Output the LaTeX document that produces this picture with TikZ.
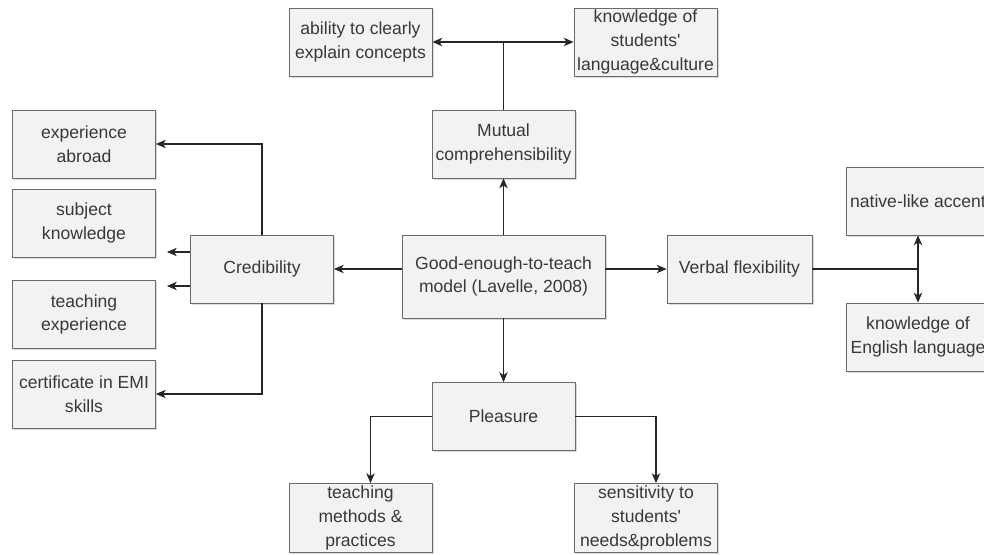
\documentclass[tikz,border=0pt]{standalone}
\usepackage{fontspec}
\setmainfont{Liberation Sans}
\usepackage{tikz}
\usetikzlibrary{arrows.meta,shadows}
\definecolor{boxfill}{rgb}{0.95,0.95,0.95}
\definecolor{boxline}{rgb}{0.42,0.42,0.42}
\definecolor{boxtext}{rgb}{0.22,0.22,0.22}

\begin{document}
\begin{tikzpicture}[>={Stealth[length=7pt,width=6pt,inset=2pt]},
		  box/.style={draw=boxline, fill=boxfill, line width=0.6pt, text=boxtext,
		    minimum width=3.575cm, minimum height=1.7cm, inner sep=1pt, align=center,
		    font=\fontsize{12.5}{17}\selectfont,
		    drop shadow={shadow xshift=1.2pt, shadow yshift=-1.2pt, opacity=0.3, fill=gray}},
		  link/.style={line width=0.75pt, draw=black!85}]
		  \useasboundingbox (0,0) rectangle (24.6,13.85);
		  % centre and the four branches
		  \node[box, minimum width=5.075cm, minimum height=2.075cm] (model) at (12.5875,6.9375) {Good-enough-to-teach\\model (Lavelle, 2008)};
		  \node[box] (mutual) at (12.5875,10.25) {Mutual\\comprehensibility};
		  \node[box] (cred) at (6.55,7.125) {Credibility};
		  \node[box, minimum width=3.625cm] (verbal) at (18.4875,7.125) {Verbal flexibility};
		  \node[box] (pleasure) at (12.5875,3.4375) {Pleasure};
		  % top
		  \node[box] (explain) at (9.0125,12.8) {ability to clearly\\explain concepts};
		  \node[box] (studlang) at (16.1375,12.8) {knowledge of\\students\textquotesingle\\language\&culture};
		  % left
		  \node[box] (abroad) at (2.1,10.25) {experience\\abroad};
		  \node[box] (subject) at (2.1,8.275) {subject\\knowledge};
		  \node[box] (teachexp) at (2.1,5.9875) {teaching\\experience};
		  \node[box] (emi) at (2.1,4.0) {certificate in EMI\\skills};
		  % right
		  \node[box] (accent) at (22.95,8.825) {native-like accent};
		  \node[box] (english) at (22.95,5.425) {knowledge of\\English language};
		  % bottom
		  \node[box, minimum height=1.725cm] (methods) at (9.0125,0.9) {teaching\\methods \&\\practices};
		  \node[box, minimum height=1.725cm] (sensit) at (16.15,0.9) {sensitivity to\\students\textquotesingle\\needs\&problems};
		  \coordinate (subjtip) at (4.175,7.55);
		  \coordinate (expTip) at (4.175,6.7);
		  % connectors
		  \draw[link, ->] (model) -- (mutual);
		  \draw[link] (mutual) -- (mutual |- explain);
		  \draw[link, <->] (explain) -- (studlang);
		  \draw[link, ->] (model.west |- cred.east) -- (cred.east);
		  \draw[link, ->] (model.east |- verbal.west) -- (verbal.west);
		  \draw[link, ->] (model) -- (pleasure);
		  \draw[link, ->] (cred.north) -- (cred.north |- abroad.east) -- (abroad.east);
		  \draw[link, ->] (cred.west |- subjtip) -- (subjtip);
		  \draw[link, ->] (cred.west |- expTip) -- (expTip);
		  \draw[link, ->] (cred.south) -- (cred.south |- emi.east) -- (emi.east);
		  \draw[link] (verbal.east) -- (verbal.east -| accent);
		  \draw[link, <->] (accent) -- (english);
		  \draw[link, ->] (pleasure.west) -| ([xshift=0.25cm]methods.north);
		  \draw[link, ->] (pleasure.east) -| ([xshift=0.25cm]sensit.north);
	\end{tikzpicture}
\end{document}
